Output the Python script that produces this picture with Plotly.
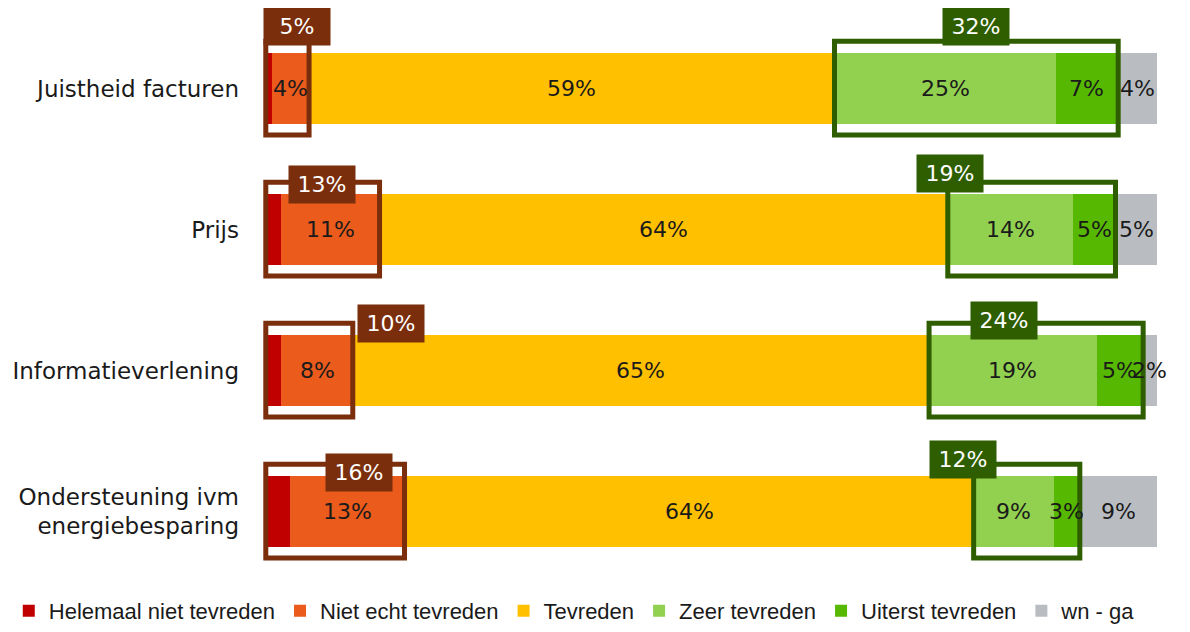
import plotly.graph_objects as go

categories = ["Juistheid facturen", "Prijs", "Informatieverlening",
              "Ondersteuning ivm<br>energiebesparing"]
series_names = ["Helemaal niet tevreden", "Niet echt tevreden", "Tevreden",
                "Zeer tevreden", "Uiterst tevreden", "wn - ga"]
helemaal_niet = [0.9, 1.9, 1.9, 2.9]
niet_echt = [4.1, 11.0, 8.0, 12.8]
tevreden = [58.9, 63.7, 64.6, 63.8]
zeer = [24.8, 14.0, 18.8, 9.0]
uiterst = [7.0, 4.8, 5.2, 2.9]
wnga = [4.3, 4.6, 1.5, 8.6]

colors = ["#C00000", "#EA5B1C", "#FFC000", "#92D050", "#56B800", "#B9BDC2"]
series = [helemaal_niet, niet_echt, tevreden, zeer, uiterst, wnga]
show_label = [False, True, True, True, True, True]

# layout-only placement tweaks for the group labels (in x-% units / row units)
neg_label_dx = [1.1, 0.0, 9.2, 2.8]
neg_label_dy = [-0.44, -0.32, -0.33, -0.28]
pos_label_dx = [0.0, -9.2, -3.6, -7.2]
pos_label_dy = [-0.44, -0.40, -0.355, -0.37]

BROWN = "#7A2E0C"
DGREEN = "#2E5E00"
FONT = "DejaVu Sans"

ML, MR, MT, MB = 251.5, 28.5, 0, 50
W, H = 1182, 624
ROW_PX = 141          # pixel height of one category row
TOP_PAD = 10          # white space above the first row's band

def pct(v):
    return f"{int(v + 0.5)}%"

ypos = list(range(len(categories)))
fig = go.Figure()
for name, vals, col in zip(series_names, series, colors):
    fig.add_trace(go.Bar(
        y=ypos, x=vals, name=name, orientation="h",
        marker=dict(color=col, line=dict(width=0)),
        hoverinfo="skip"))

annotations = []
shapes = []
for i in ypos:
    cum = 0.0
    for s, vals in enumerate(series):
        v = vals[i]
        if show_label[s]:
            annotations.append(dict(
                x=cum + v / 2, y=i, xref="x", yref="y", text=pct(v),
                showarrow=False, font=dict(family=FONT, size=22, color="#1a1a1a")))
        cum += v
    # negative group box
    neg = helemaal_niet[i] + niet_echt[i]
    shapes.append(dict(type="rect", xref="x", yref="y", x0=0.15, x1=neg,
                       y0=i - 0.335, y1=i + 0.33,
                       line=dict(color=BROWN, width=5), layer="above"))
    annotations.append(dict(
        x=neg / 2 + neg_label_dx[i], y=i + neg_label_dy[i], xref="x", yref="y",
        text=pct(neg), showarrow=False, width=64, height=35, bgcolor=BROWN,
        font=dict(family=FONT, size=22, color="white")))
    # positive group box
    p0 = helemaal_niet[i] + niet_echt[i] + tevreden[i]
    pos = zeer[i] + uiterst[i]
    shapes.append(dict(type="rect", xref="x", yref="y", x0=p0, x1=p0 + pos,
                       y0=i - 0.335, y1=i + 0.33,
                       line=dict(color=DGREEN, width=5), layer="above"))
    annotations.append(dict(
        x=p0 + pos / 2 + pos_label_dx[i], y=i + pos_label_dy[i], xref="x", yref="y",
        text=pct(pos), showarrow=False, width=64, height=35, bgcolor=DGREEN,
        font=dict(family=FONT, size=22, color="white")))

plot_w = W - ML - MR
plot_h = H - MT - MB
n = len(categories)
fig.update_layout(
    barmode="stack", bargap=0.5,
    width=W, height=H,
    margin=dict(l=ML, r=MR, t=MT, b=MB),
    paper_bgcolor="white", plot_bgcolor="white",
    xaxis=dict(range=[-0.5, 100.5], visible=False, fixedrange=True),
    yaxis=dict(range=[n - 0.5, -0.5 - TOP_PAD / ROW_PX], tickvals=ypos, ticktext=categories,
               showgrid=False, zeroline=False, showline=False, ticks="",
               ticklabelstandoff=20, automargin=False,
               tickfont=dict(family=FONT, size=23, color="#1a1a1a")),
    legend=dict(orientation="h", xref="paper", yref="paper",
                x=-ML / plot_w, xanchor="left", y=-8 / plot_h, yanchor="top",
                font=dict(family="Liberation Sans", size=22, color="#1a1a1a"),
                traceorder="normal", itemwidth=30),
    annotations=annotations, shapes=shapes,
    showlegend=True,
)

fig.write_html("out.html")
